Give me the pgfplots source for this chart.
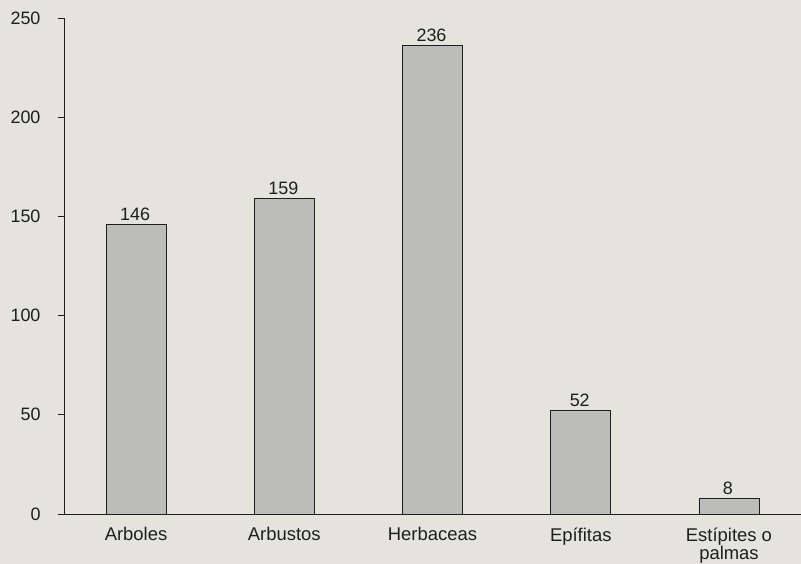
\documentclass[border=0pt]{standalone}
\usepackage{pgfplots}
\pgfplotsset{compat=1.18}
\usepackage{fontspec}
\setmainfont{Liberation Sans}
\definecolor{bg}{RGB}{228,227,220}
\definecolor{barfill}{RGB}{188,188,186}
\definecolor{ink}{RGB}{30,30,30}
\begin{document}
\begin{tikzpicture}
\fill[bg] (0,0) rectangle (801bp,564bp);
\begin{axis}[
  at={(64bp,50bp)}, anchor=south west,
  scale only axis,
  width=737bp, height=496bp,
  xmin=-0.486, xmax=4.486,
  ymin=0, ymax=250,
  axis x line*=bottom, axis y line*=left,
  axis line style={ink, line width=0.8pt, -},
  xtick={0,1,2,3,4},
  xticklabels={Arboles,Arbustos,Herbaceas,Epífitas,{Estípites o\\palmas}},
  xticklabel style={align=center, font=\fontsize{18.5}{18.5}\selectfont, text=ink, yshift=-4bp},
  x tick style={draw=none},
  extra x ticks={0.5,1.5,2.5,3.5},
  extra x tick labels={},
  extra x tick style={major tick length=6bp, tick style={ink, line width=0.8pt, draw=ink}, tick align=outside},
  ytick={0,50,100,150,200,250},
  yticklabel style={font=\fontsize{18}{20}\selectfont, text=ink, xshift=-14bp},
  /pgf/number format/assume math mode=true,
  y tick style={ink, line width=0.8pt},
  tick align=outside,
  major tick length=6bp,
  ytick pos=left,
  ybar, bar width=60bp,
  nodes near coords,
  nodes near coords style={font=\fontsize{18}{20}\selectfont, text=ink, xshift=-1bp},
]
\addplot[draw=ink, fill=barfill, line width=0.7pt] coordinates {(0,146) (1,159) (2,236) (3,52) (4,8)};
\end{axis}
\pgfresetboundingbox
\path (0,0) rectangle (801bp,564bp);
\end{tikzpicture}
\end{document}
